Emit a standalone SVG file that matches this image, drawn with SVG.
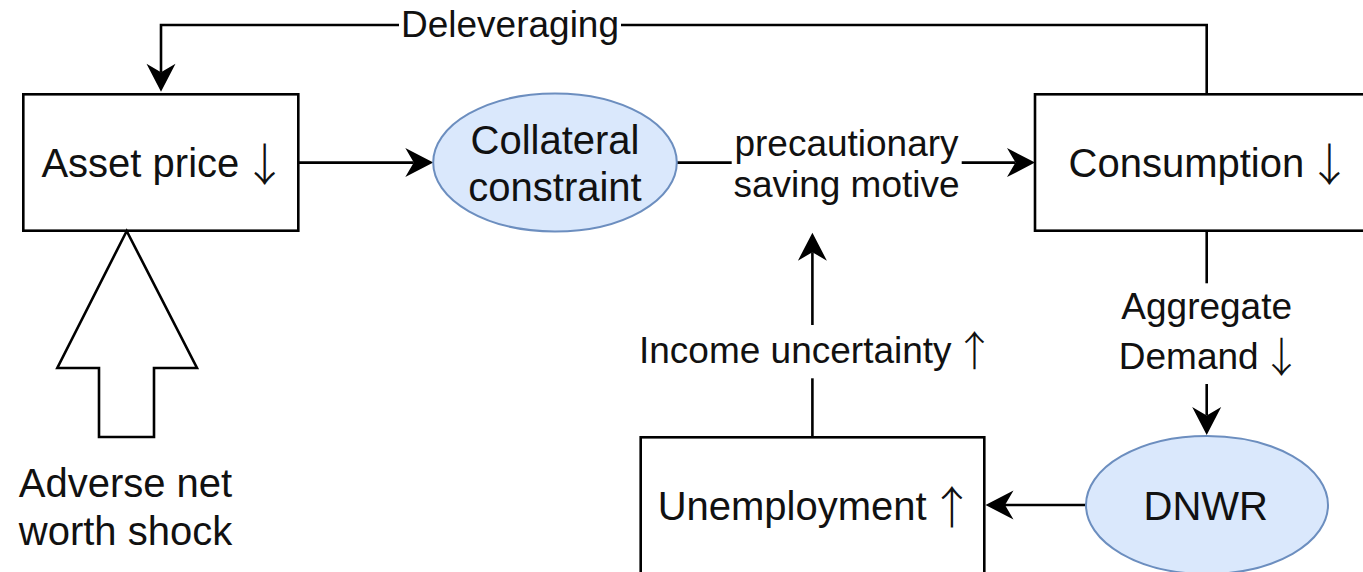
<svg xmlns="http://www.w3.org/2000/svg" width="1363" height="572" viewBox="0 0 1363 572">
  <style>
    .box { fill: #ffffff; stroke: #000000; stroke-width: 2.6; }
    .oval { fill: #dae8fc; stroke: #6c8ebf; stroke-width: 2; }
    .edge { fill: none; stroke: #000000; stroke-width: 2.6; }
    .arrowed { marker-end: url(#head); }
    text { font-family: "Liberation Sans", Arial, sans-serif; fill: #111111; text-anchor: middle; }
    .node { font-size: 40px; }
    .lbl { font-size: 37px; }
    /* tall thin trend arrows; tighter spacing keeps them close to the word */
    .arw { font-family: "Noto Sans CJK JP", "DejaVu Sans", sans-serif; font-weight: 300; font-size: 1.12em; letter-spacing: -7px; }
  </style>
  <defs>
    <!-- classic notched arrowhead; reference point sits in the notch -->
    <marker id="head" markerUnits="userSpaceOnUse" markerWidth="40" markerHeight="40" refX="8.5" refY="0" orient="auto" overflow="visible">
      <path d="M28,0 L0,-14.5 L8.5,0 L0,14.5 Z" fill="#000000"/>
    </marker>
  </defs>

  <rect width="1363" height="572" fill="#ffffff"/>

  <!-- connectors -->
  <g id="connectors">
    <!-- Deleveraging feedback loop -->
    <path class="edge" d="M1206.7,94.3 V25 H621"/>
    <path class="edge arrowed" d="M399,25 H161 V72.2"/>
    <!-- Asset price to Collateral constraint -->
    <path class="edge arrowed" d="M298.3,162.6 H413.8"/>
    <!-- Collateral constraint to Consumption -->
    <path class="edge" d="M676.7,162.6 H731.7"/>
    <path class="edge arrowed" d="M961.7,162.6 H1015.5"/>
    <!-- Consumption to DNWR -->
    <path class="edge" d="M1206.7,230.7 V283.3"/>
    <path class="edge arrowed" d="M1206.7,384 V415.5"/>
    <!-- DNWR to Unemployment -->
    <path class="edge arrowed" d="M1086,505 H1005"/>
    <!-- Unemployment up to precautionary saving -->
    <path class="edge" d="M812.4,437.3 V378.3"/>
    <path class="edge arrowed" d="M812.4,325 V252.2"/>

    <text class="lbl" x="510" y="37.3">Deleveraging</text>
    <text class="lbl" x="846.5" y="155.5">precautionary</text>
    <text class="lbl" x="846.5" y="197">saving motive</text>
    <text class="lbl" x="1206.7" y="319">Aggregate</text>
    <text class="lbl" x="1207" y="369">Demand<tspan class="arw" dy="3"> ↓</tspan></text>
    <text class="lbl" x="813.6" y="363.3">Income uncertainty<tspan class="arw" dy="3"> ↑</tspan></text>
  </g>

  <g id="asset-price">
    <rect class="box" x="23.3" y="94.3" width="275" height="136.4"/>
    <text class="node" x="160.7" y="176.7">Asset price<tspan class="arw" dy="4"> ↓</tspan></text>
  </g>

  <g id="collateral-constraint">
    <ellipse class="oval" cx="555" cy="162.5" rx="121.8" ry="69"/>
    <text class="node" x="555" y="154">Collateral</text>
    <text class="node" x="555" y="201">constraint</text>
  </g>

  <g id="consumption">
    <rect class="box" x="1035" y="94.3" width="343.4" height="136.4"/>
    <text class="node" x="1206.7" y="176.7">Consumption<tspan class="arw" dy="4"> ↓</tspan></text>
  </g>

  <g id="dnwr">
    <ellipse class="oval" cx="1207" cy="505" rx="121" ry="69"/>
    <text class="node" x="1205.8" y="520">DNWR</text>
  </g>

  <g id="unemployment">
    <rect class="box" x="640.7" y="437.3" width="343.6" height="136"/>
    <text class="node" x="812.5" y="520">Unemployment<tspan class="arw" dy="4"> ↑</tspan></text>
  </g>

  <g id="net-worth-shock">
    <polygon class="box" points="126.7,231 197,368 154,368 154,437 99,437 99,368 57.3,368"/>
    <text class="node" x="125.5" y="497">Adverse net</text>
    <text class="node" x="125.5" y="545">worth shock</text>
  </g>
</svg>
